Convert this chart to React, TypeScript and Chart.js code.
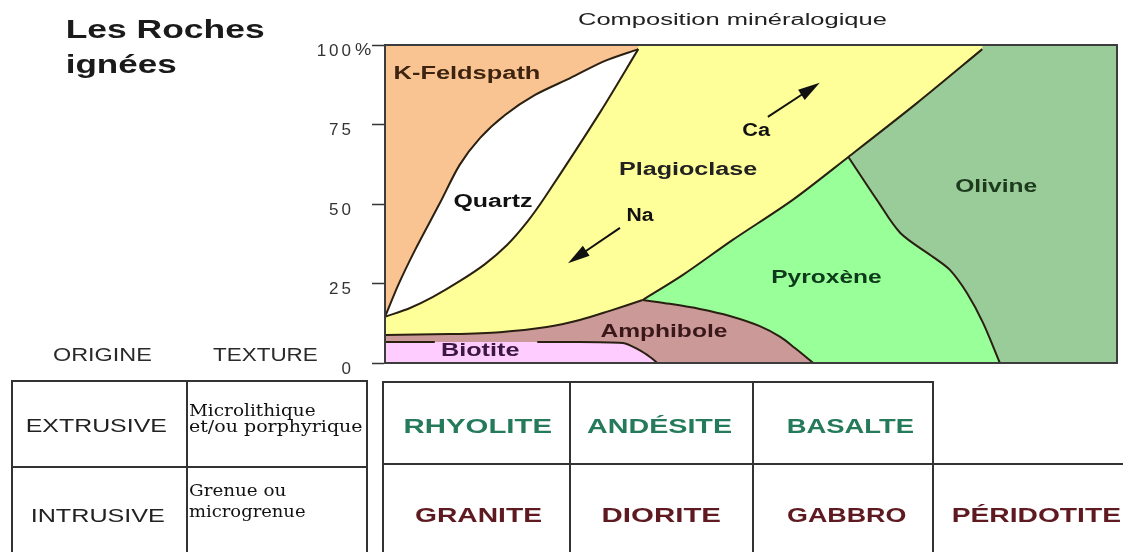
import { useEffect, useRef } from 'react';
import { Chart, registerables } from 'chart.js';

Chart.register(...registerables);
Chart.defaults.font.family = 'Liberation Sans';

// ---- data (percent composition, x = position along the series 0..100) ----
const yTicks = [0, 25, 50, 75, 100];

const kfeldQuartz = [[0, 14.5], [1.8, 24.5], [4.1, 35.5], [7.5, 50.3], [10.2, 62.3], [13.0, 70.8], [16.4, 78.0], [20.5, 84.3], [25.3, 89.6], [30.05, 95.0], [34.6, 98.7]];
const quartzPlag = [[0, 14.5], [3.42, 17.3], [6.56, 20.8], [10.25, 25.8], [13.66, 31.1], [16.67, 37.1], [19.4, 44.3], [21.86, 52.2], [29.4, 78.9], [34.6, 98.7]];
const plagAmph = [[0, 8.8], [8.9, 9.1], [15.7, 9.7], [22.1, 11.3], [26.6, 13.5], [30.7, 16.4], [35.2, 19.8]];
const amphPyx = [[35.2, 19.8], [38.9, 18.6], [43.0, 17.0], [47.1, 14.8], [51.2, 11.6], [54.0, 8.2], [56.0, 4.7], [58.5, 0]];
const biotiteTop = [[0, 6.6], [6.8, 6.6], [20.8, 6.6], [32.5, 6.3], [34.7, 4.1], [36.2, 1.9], [37.2, 0]];
const plagMafic = [[35.2, 19.8], [40.7, 27.7], [47.5, 38.7], [55.7, 51.3], [63.3, 64.8], [72.7, 81.8], [81.6, 98.7]];
const pyxOlivine = [[63.3, 64.8], [67.2, 51.3], [70.4, 40.9], [74.9, 33.3], [77.2, 29.2], [79.5, 22.0], [81.7, 12.6], [84.0, 0]];

const mineralNames = ['K-Feldspath', 'Quartz', 'Plagioclase', 'Na', 'Ca', 'Olivine', 'Pyroxène', 'Amphibole', 'Biotite'];
const mineralAnchors = [[11.2, 89.3], [14.75, 49.1], [41.5, 59.1], [35.0, 44.65], [50.8, 71.4], [83.5, 53.8], [60.4, 25.2], [38.1, 8.2], [13.1, 2.2]];
const naArrow = [[32.1, 42.5], [25.0, 31.4]];
const caArrow = [[52.3, 77.4], [59.4, 88.1]];

const origins = ['EXTRUSIVE', 'INTRUSIVE'];
const textures = [['Microlithique', 'et/ou porphyrique'], ['Grenue ou', 'microgrenue']];
const extrusiveRocks = ['RHYOLITE', 'ANDÉSITE', 'BASALTE'];
const intrusiveRocks = ['GRANITE', 'DIORITE', 'GABBRO', 'PÉRIDOTITE'];

// ---- styles ----
const LINE = '#2a2012';
const mineralStyle: Record<string, { w: number; c: string }> = {
  'K-Feldspath': { w: 144, c: '#3d2410' },
  Quartz: { w: 79, c: '#111111' },
  Plagioclase: { w: 137, c: '#222222' },
  Na: { w: 27, c: '#111111' },
  Ca: { w: 29, c: '#111111' },
  Olivine: { w: 82, c: '#1d3a1d' },
  'Pyroxène': { w: 109, c: '#0d3a1a' },
  Amphibole: { w: 127, c: '#3a1818' },
  Biotite: { w: 77, c: '#3a1840' },
};

const P = (a: number[][]) => a.map(([x, y]) => ({ x, y }));
const last = (a: number[][]) => a[a.length - 1];

const polyOlivine = [[0, 0], [100, 0], [100, 100], [0, 100]];
const polyPyx = [[0, 0], ...pyxOlivine.slice().reverse(), [0, pyxOlivine[0][1]]];
const polyPlag = [[0, 0], [0, 100], [last(plagMafic)[0], 100], ...plagMafic.slice().reverse(), [plagMafic[0][0], 0]];
const polyAmph = [[0, 0], ...plagAmph, ...amphPyx.slice(1)];
const polyBio = [[0, 0], ...biotiteTop];
const polyQuartz = [...kfeldQuartz, ...quartzPlag.slice(0, -1).reverse()];
const polyKfeld = [...kfeldQuartz, [last(kfeldQuartz)[0], 100], [0, 100]];

function fitText(ctx: CanvasRenderingContext2D, text: string, left: number, y: number, width: number, font: string, color: string, base: CanvasTextBaseline = 'alphabetic') {
  ctx.save();
  (ctx as any).letterSpacing = '0px';
  ctx.font = font;
  ctx.fillStyle = color;
  ctx.textAlign = 'left';
  ctx.textBaseline = base;
  const m = ctx.measureText(text);
  const gw = m.actualBoundingBoxLeft + m.actualBoundingBoxRight;
  const sx = gw > 0 ? width / gw : 1;
  ctx.translate(left, y);
  ctx.scale(sx, 1);
  ctx.fillText(text, m.actualBoundingBoxLeft, 0);
  ctx.restore();
}

function drawArrow(ctx: CanvasRenderingContext2D, x0: number, y0: number, x1: number, y1: number) {
  const dx = x1 - x0, dy = y1 - y0, L = Math.hypot(dx, dy);
  const ux = dx / L, uy = dy / L;
  const hl = 22, hw = 6;
  const bx = x1 - ux * hl, by = y1 - uy * hl;
  ctx.save();
  ctx.strokeStyle = '#111';
  ctx.lineWidth = 2;
  ctx.beginPath();
  ctx.moveTo(x0, y0);
  ctx.lineTo(bx + ux * 3, by + uy * 3);
  ctx.stroke();
  ctx.fillStyle = '#111';
  ctx.beginPath();
  ctx.moveTo(x1, y1);
  ctx.lineTo(bx - uy * hw, by + ux * hw);
  ctx.lineTo(bx + uy * hw, by - ux * hw);
  ctx.closePath();
  ctx.fill();
  ctx.restore();
}

const decor = {
  id: 'decor',
  beforeDraw(chart: any) {
    chart.ctx.letterSpacing = '3px';
  },
  beforeDatasetsDraw(chart: any) {
    chart.ctx.letterSpacing = '0px';
  },
  afterDatasetsDraw(chart: any) {
    const ctx: CanvasRenderingContext2D = chart.ctx;
    const { left, top, right, bottom } = chart.chartArea;
    const xs = chart.scales.x, ys = chart.scales.y;
    ctx.save();
    ctx.strokeStyle = '#3c3c3c';
    ctx.lineWidth = 2;
    ctx.strokeRect(left, top, right - left, bottom - top);
    ctx.restore();
    mineralNames.forEach((name, i) => {
      const st = mineralStyle[name];
      const cx = xs.getPixelForValue(mineralAnchors[i][0]);
      const by = ys.getPixelForValue(mineralAnchors[i][1]);
      fitText(ctx, name, cx - st.w / 2, by, st.w, 'bold 18px "Liberation Sans"', st.c);
    });
    [naArrow, caArrow].forEach((a) => {
      drawArrow(ctx, xs.getPixelForValue(a[0][0]), ys.getPixelForValue(a[0][1]), xs.getPixelForValue(a[1][0]), ys.getPixelForValue(a[1][1]));
    });
  },
  afterDraw(chart: any) {
    const ctx: CanvasRenderingContext2D = chart.ctx;
    const ys = chart.scales.y;
    // percent sign after the 100 tick
    fitText(ctx, '%', 355, ys.getPixelForValue(100) + 6, 16, '16px "Liberation Sans"', '#333', 'middle');
    // titles
    fitText(ctx, 'Les Roches', 67, 38, 197, 'bold 26px "Liberation Sans"', '#1a1a1a');
    fitText(ctx, 'ignées', 67, 73, 109, 'bold 26px "Liberation Sans"', '#1a1a1a');
    fitText(ctx, 'Composition minéralogique', 578, 25, 309, '16px "Liberation Sans"', '#222');
    fitText(ctx, 'ORIGINE', 53, 361, 98, '19px "Liberation Sans"', '#2a2a2a');
    fitText(ctx, 'TEXTURE', 213, 361, 104, '19px "Liberation Sans"', '#2a2a2a');
    // table lines
    ctx.save();
    ctx.strokeStyle = '#333';
    ctx.lineWidth = 2;
    const seg = (x0: number, y0: number, x1: number, y1: number) => {
      ctx.beginPath(); ctx.moveTo(x0, y0); ctx.lineTo(x1, y1); ctx.stroke();
    };
    seg(11, 381, 368, 381);
    seg(12, 467, 367, 467);
    [12, 187, 367].forEach((x) => seg(x, 381, x, 552));
    seg(382, 382, 934, 382);
    seg(382, 464, 1123, 464);
    [383, 570, 753, 933].forEach((x) => seg(x, 382, x, 552));
    ctx.restore();
    // table text
    const oL = [[27, 432, 139], [32, 522, 132]];
    origins.forEach((t, i) => fitText(ctx, t, oL[i][0], oL[i][1], oL[i][2], '19px "Liberation Sans"', '#222'));
    const tL = [[[189, 416, 126], [189, 432, 173]], [[189, 496, 97], [189, 517, 116]]];
    textures.forEach((lines, i) => lines.forEach((t, j) => fitText(ctx, t, tL[i][j][0], tL[i][j][1], tL[i][j][2], '16px "DejaVu Serif"', '#111')));
    const eL = [[405, 147], [587, 145], [788, 126]];
    extrusiveRocks.forEach((t, i) => fitText(ctx, t, eL[i][0], 433, eL[i][1], 'bold 21px "Liberation Sans"', '#247a5a'));
    const iL = [[415, 127], [603, 118], [787, 119], [953, 168]];
    intrusiveRocks.forEach((t, i) => fitText(ctx, t, iL[i][0], 522, iL[i][1], 'bold 21px "Liberation Sans"', '#5e1a20'));
  },
};

function fillSet(data: number[][], color: string, order: number) {
  return { data: P(data), fill: 'shape', backgroundColor: color, borderWidth: 0, pointRadius: 0, tension: 0, order };
}
function lineSet(data: number[][]) {
  return { data: P(data), fill: false, borderColor: LINE, borderWidth: 2, pointRadius: 0, tension: 0.3, order: 0 };
}

export default function App() {
  const ref = useRef<HTMLCanvasElement>(null);
  useEffect(() => {
    if (!ref.current) return;
    const chart = new Chart(ref.current, {
      type: 'line',
      data: {
        datasets: [
          fillSet(polyKfeld, '#F9C392', 4),
          fillSet(polyQuartz, '#FFFFFF', 5),
          fillSet(polyBio, '#FFCCFF', 6),
          fillSet(polyAmph, '#CC9999', 7),
          fillSet(polyPlag, '#FFFF99', 8),
          fillSet(polyPyx, '#99FF99', 9),
          fillSet(polyOlivine, '#99CC99', 10),
          lineSet(kfeldQuartz),
          lineSet(quartzPlag),
          lineSet(plagAmph),
          lineSet(amphPyx),
          lineSet(biotiteTop.slice(0, 2)),
          lineSet(biotiteTop.slice(2)),
          lineSet(plagMafic),
          lineSet(pyxOlivine),
        ] as any,
      },
      options: {
        responsive: false,
        maintainAspectRatio: false,
        devicePixelRatio: 1,
        animation: false,
        events: [],
        layout: { padding: { left: 305, right: 6, top: 45, bottom: 189 } },
        plugins: { legend: { display: false }, tooltip: { enabled: false }, title: { display: false } },
        scales: {
          x: { type: 'linear', min: 0, max: 100, display: false },
          y: {
            type: 'linear',
            min: 0,
            max: 100,
            afterBuildTicks: (s: any) => { s.ticks = yTicks.map((v) => ({ value: v })); },
            afterFit: (s: any) => { s.width = 80; },
            ticks: { color: '#333', font: { size: 17, family: 'Liberation Sans' }, padding: 18, labelOffset: 6, autoSkip: false, callback: (v: any) => String(v) },
            grid: { drawOnChartArea: false, drawTicks: true, tickLength: 13, tickColor: '#333', tickWidth: 1.5 },
            border: { display: true, color: '#3c3c3c', width: 2 },
          },
        },
      } as any,
      plugins: [decor],
    });
    return () => chart.destroy();
  }, []);
  return (
    <div style={{ position: 'fixed', left: 0, top: 0, width: 1123, height: 552, background: '#fff' }}>
      <canvas ref={ref} width={1123} height={552} style={{ display: 'block', width: 1123, height: 552 }} />
    </div>
  );
}
